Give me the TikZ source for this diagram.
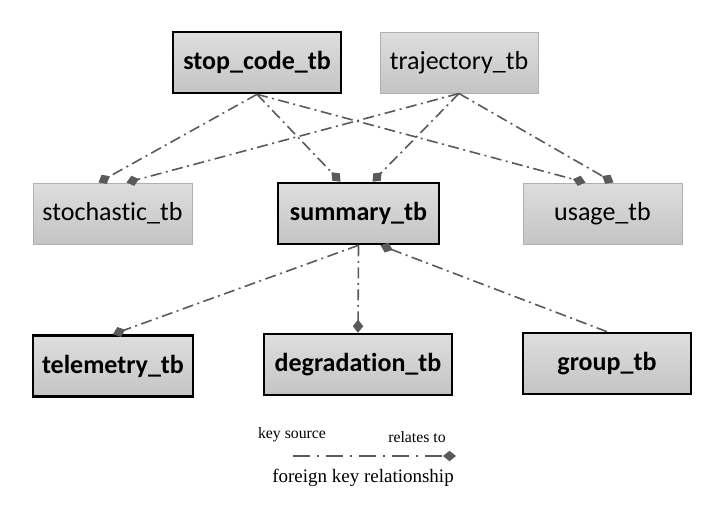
\documentclass[tikz,border=0pt]{standalone}
\usepackage{fontspec}
\setmainfont{Liberation Serif}
\newfontfamily\tblfont[Ligatures=NoCommon]{Carlito}
\definecolor{tbedge}{RGB}{176,176,176}
\definecolor{tbtop}{RGB}{222,222,222}
\definecolor{tbbot}{RGB}{196,196,196}
\definecolor{fkgray}{RGB}{90,90,90}
\usetikzlibrary{arrows.meta,positioning,calc}

\begin{document}
\begin{tikzpicture}[x=1pt, y=-1pt,
  tbl/.style={draw=tbedge, line width=1pt, top color=tbtop, bottom color=tbbot, minimum height=61pt, inner sep=0pt, font=\tblfont\fontsize{26}{30}\selectfont},
  keytbl/.style={tbl, draw=black, line width=2.6pt, font=\tblfont\bfseries\fontsize{26}{30}\selectfont},
  fk/.style={draw=fkgray, line width=1.6pt, dash pattern=on 11pt off 4.5pt on 2pt off 4.5pt, -{Diamond[length=13pt,width=10.5pt,fill=fkgray]}}]
  \useasboundingbox (0,0) rectangle (721,514);

  \node[keytbl, minimum width=168pt] (stop) at (257,62.5) {stop\_code\_tb};
  \node[tbl, minimum width=158pt] (traj) at (459,62.5) {trajectory\_tb};

  \node[tbl, minimum width=159pt] (stoch) at (112.5,213.5) {stochastic\_tb};
  \node[keytbl, minimum width=161pt] (summ) at (358.5,213.5) {summary\_tb};
  \node[tbl, minimum width=159pt] (usage) at (602.5,213.5) {usage\_tb};

  \node[keytbl, minimum width=160pt] (telem) at (113,366) {telemetry\_tb};
  \node[keytbl, minimum width=188pt] (degr) at (358,364.5) {degradation\_tb};
  \node[keytbl, minimum width=168pt] (group) at (607,363.5) {group\_tb};

  % top row to middle row
  \draw[fk] (stop.south) -- ([xshift=-14pt]stoch.north);
  \draw[fk] (stop.south) -- ([xshift=-18pt]summ.north);
  \draw[fk] (stop.south) -- ([xshift=-17pt]usage.north);
  \draw[fk] (traj.south) -- ([xshift=14pt]stoch.north);
  \draw[fk] (traj.south) -- ([xshift=14pt]summ.north);
  \draw[fk] (traj.south) -- ([xshift=11pt]usage.north);

  % summary to bottom row
  \draw[fk] (summ.south) -- (telem.north);
  \draw[fk] (summ.south) -- (degr.north);
  \draw[fk] (group.north) -- ([xshift=22pt]summ.south);

  % legend
  \node[font=\fontsize{15.8}{18}\selectfont] (src) at (292,435) {key source};
  \node[font=\fontsize{15.8}{18}\selectfont] (rel) at (417,437) {relates to};
  \coordinate (lgA) at (293,456);
  \coordinate (lgB) at (456,456);
  \draw[fk, dash pattern=on 17pt off 7pt on 2pt off 7pt] (lgA) -- (lgB);
  \node[font=\fontsize{19}{22}\selectfont] (fkcap) at (363,478) {foreign key relationship};
\end{tikzpicture}
\end{document}
